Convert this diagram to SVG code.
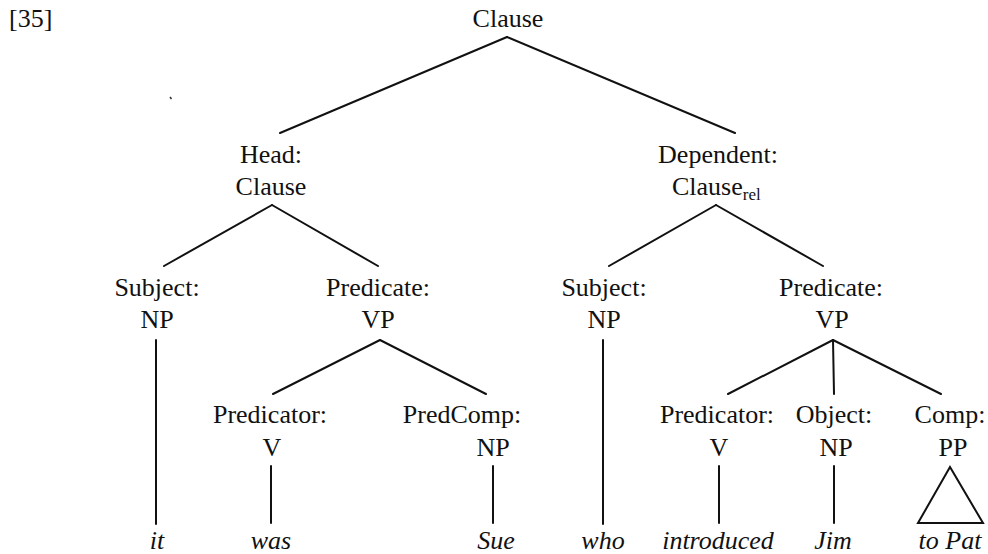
<svg xmlns="http://www.w3.org/2000/svg" width="988" height="554" viewBox="0 0 988 554">
<style>
text{font-family:"Liberation Serif","Times New Roman",serif;font-size:26px;fill:#111;text-anchor:middle}
.lf{font-style:italic}
.sub{font-size:17px}
#edges line,#edges polygon{stroke:#111;stroke-width:2;fill:none;stroke-linecap:round}
</style>
<rect width="988" height="554" fill="#fff"/>
<text x="9" y="27" style="text-anchor:start">[35]</text>
<path d="M170,97 l1.5,2" stroke="#333" stroke-width="1.5"/>
<g id="edges">
<line x1="507" y1="37" x2="280" y2="133"/>
<line x1="507" y1="37" x2="735" y2="133"/>
<line x1="272" y1="205" x2="164" y2="266"/>
<line x1="272" y1="205" x2="378" y2="266"/>
<line x1="716" y1="205" x2="609" y2="266"/>
<line x1="716" y1="205" x2="823" y2="266"/>
<line x1="156" y1="340" x2="156" y2="524"/>
<line x1="380" y1="340" x2="273" y2="394"/>
<line x1="380" y1="340" x2="486" y2="394"/>
<line x1="603" y1="340" x2="603" y2="524"/>
<line x1="833" y1="340" x2="728" y2="394"/>
<line x1="833" y1="340" x2="834" y2="394"/>
<line x1="833" y1="340" x2="941" y2="394"/>
<line x1="271" y1="466" x2="271" y2="523"/>
<line x1="493" y1="466" x2="493" y2="523"/>
<line x1="719" y1="466" x2="719" y2="523"/>
<line x1="834" y1="466" x2="834" y2="523"/>
<polygon points="950,467 918,523 983,523"/>
</g>
<g id="root"><text x="508" y="27">Clause</text></g>
<g id="head"><text x="271" y="163">Head:</text><text x="271" y="195">Clause</text></g>
<g id="dependent"><text x="718" y="163">Dependent:</text><text x="672" y="195" style="text-anchor:start">Clause<tspan class="sub" dy="5">rel</tspan></text></g>
<g id="subj1"><text x="157" y="296">Subject:</text><text x="157" y="328">NP</text></g>
<g id="pred1"><text x="378" y="296">Predicate:</text><text x="378" y="328">VP</text></g>
<g id="subj2"><text x="604" y="296">Subject:</text><text x="604" y="328">NP</text></g>
<g id="pred2"><text x="831" y="296">Predicate:</text><text x="832" y="328">VP</text></g>
<g id="predicator1"><text x="270" y="423">Predicator:</text><text x="272" y="456">V</text></g>
<g id="predcomp"><text x="462" y="423">PredComp:</text><text x="493" y="456">NP</text></g>
<g id="predicator2"><text x="717" y="423">Predicator:</text><text x="719" y="456">V</text></g>
<g id="object"><text x="834" y="423">Object:</text><text x="836" y="456">NP</text></g>
<g id="comp"><text x="950" y="423">Comp:</text><text x="953" y="456">PP</text></g>
<g id="leaf-it"><text class="lf" x="157" y="549">it</text></g>
<g id="leaf-was"><text class="lf" x="271" y="549">was</text></g>
<g id="leaf-sue"><text class="lf" x="496" y="549">Sue</text></g>
<g id="leaf-who"><text class="lf" x="603" y="549">who</text></g>
<g id="leaf-introduced"><text class="lf" x="718" y="549">introduced</text></g>
<g id="leaf-jim"><text class="lf" x="833" y="549">Jim</text></g>
<g id="leaf-topat"><text class="lf" x="950" y="549">to Pat</text></g>
</svg>
